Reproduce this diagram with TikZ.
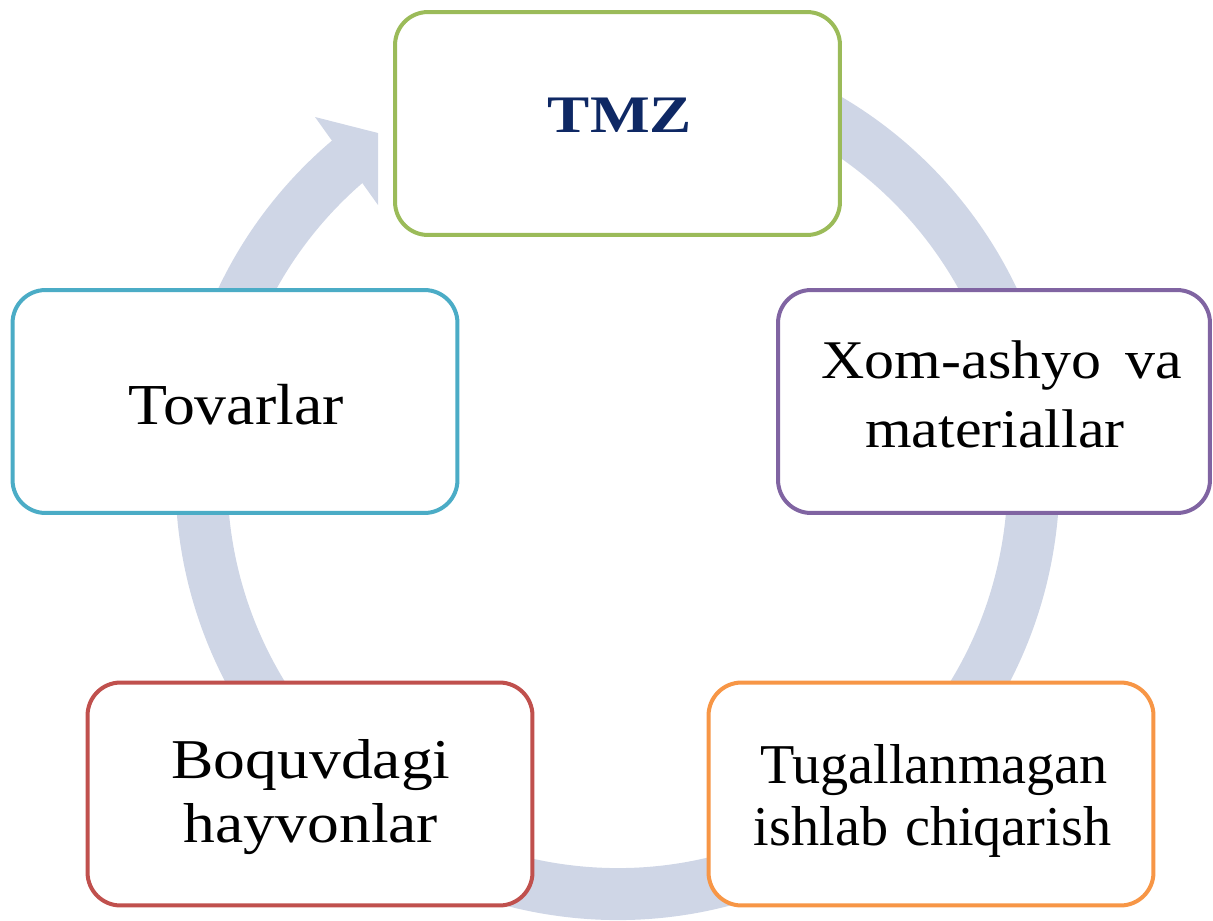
\documentclass[tikz,border=0pt]{standalone}
\usepackage{fontspec}
\setmainfont{Liberation Serif}
\newfontfamily\fTMZ[FakeStretch=1.2]{Liberation Serif}
\newfontfamily\fTov[FakeStretch=1.1]{Liberation Serif}
\newfontfamily\fBoq[FakeStretch=1.13]{Liberation Serif}
\newfontfamily\fXom[FakeStretch=1.1]{Liberation Serif}
\definecolor{bandc}{RGB}{207,214,230}
\definecolor{cgreen}{RGB}{155,187,89}
\definecolor{cpurple}{RGB}{128,100,162}
\definecolor{corange}{RGB}{247,150,70}
\definecolor{cred}{RGB}{192,80,77}
\definecolor{cteal}{RGB}{75,172,198}
\definecolor{navy}{RGB}{14,40,100}
\begin{document}
\begin{tikzpicture}[x=0.02cm,y=-0.02cm,
  box/.style={draw, line width=0.08cm, rounded corners=0.66cm, fill=white,
    minimum width=8.9cm, minimum height=4.46cm, inner sep=0pt},
  txt/.style={anchor=base, inner sep=0pt},
  band/.style={bandc, line width=1.04cm}]
\useasboundingbox (0,0) rectangle (1213,920);
\coordinate (c) at (617.5,478);
\draw[band] (c) ++(-80:416) arc[start angle=-80, end angle=231, radius=416];
\coordinate (ab1) at (315,117);
\coordinate (at1) at (378,133);
\coordinate (at2) at (378,205);
\fill[bandc] (ab1) -- (at1) -- (at2) -- cycle;
% boxes
\node[box, draw=cgreen] (tmz) at (617.5,123.5) {};
\node[box, draw=cpurple, minimum width=8.64cm] (xom) at (994,401.5) {};
\node[box, draw=corange] (tug) at (931,794) {};
\node[box, draw=cred] (boq) at (310,794) {};
\node[box, draw=cteal] (tov) at (235,401.5) {};
% texts
\node[txt, font=\fontsize{30}{30}\fTMZ\bfseries, text=navy] (tmzt) at (620,132) {TMZ};
\node[txt, font=\fontsize{31}{31}\fXom] (xom1) at (1002,378) {Xom-ashyo\hspace{0.45em}va};
\node[txt, font=\fontsize{31}{31}\fXom] (xom2) at (995,447) {materiallar};
\node[txt, font=\fontsize{32}{32}\selectfont] (tug1) at (934,783) {Tugallanmagan};
\node[txt, font=\fontsize{32}{32}\selectfont] (tug2) at (932.5,845) {ishlab\hspace{0.3em}chiqarish};
\node[txt, font=\fontsize{32}{32}\fBoq] (boq1) at (311,778) {Boquvdagi};
\node[txt, font=\fontsize{32}{32}\fBoq] (boq2) at (311,842) {hayvonlar};
\node[txt, font=\fontsize{33}{33}\fTov] (tovt) at (236,424) {Tovarlar};
\end{tikzpicture}
\end{document}
